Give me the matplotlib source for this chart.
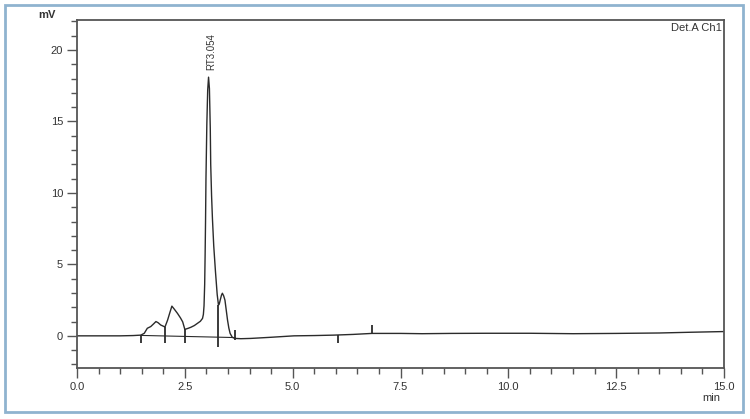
import matplotlib
matplotlib.use("Agg")
import matplotlib.pyplot as plt
from matplotlib.patches import Rectangle
from matplotlib.ticker import MultipleLocator

plt.rcParams['font.family'] = ['Liberation Sans', 'DejaVu Sans']

# chromatogram trace (min, mV)
time_min = [0.0, 0.5, 1.0, 1.3, 1.48, 1.56, 1.63, 1.71, 1.78, 1.83, 1.88, 1.94,
            2.04, 2.10, 2.15, 2.20, 2.26, 2.33, 2.40, 2.45, 2.50, 2.57, 2.64,
            2.72, 2.79, 2.86, 2.91, 2.93, 2.945, 2.96, 2.97, 2.98, 2.99, 3.01,
            3.03, 3.05, 3.07, 3.09, 3.10, 3.12, 3.14, 3.17, 3.21, 3.25,
            3.28, 3.30, 3.32, 3.35, 3.37, 3.40, 3.43, 3.46, 3.49, 3.52,
            3.55, 3.60, 3.66, 3.80, 4.03, 4.50, 5.03, 5.50, 5.95, 6.40, 6.84,
            7.50, 8.00, 8.66, 9.50, 10.5, 11.5, 12.5, 13.5, 14.2, 15.0]
signal_mv = [0.0, 0.0, 0.0, 0.02, 0.05, 0.18, 0.53, 0.65, 0.85, 1.0, 0.92, 0.76,
             0.62, 1.1, 1.6, 2.08, 1.85, 1.57, 1.25, 0.98, 0.45, 0.52, 0.6,
             0.72, 0.87, 1.02, 1.22, 1.5, 2.1, 3.6, 5.6, 8.0, 11.0, 14.8,
             17.2, 18.1, 17.3, 14.5, 12.0, 9.8, 8.2, 6.3, 4.5, 2.9,
             2.15, 2.25, 2.5, 2.85, 2.98, 2.8, 2.5, 1.8, 1.1, 0.55,
             0.17, -0.1, -0.18, -0.2, -0.18, -0.1, 0.0, 0.02, 0.05, 0.1, 0.17,
             0.17, 0.15, 0.17, 0.18, 0.18, 0.15, 0.17, 0.2, 0.25, 0.3]

# integration baseline under the peak group
base_x = [1.48, 3.66]
base_y = [0.03, -0.12]

# integration start / stop marks
mark_x = [1.48, 2.04, 2.50, 3.28, 3.66, 6.06, 6.85]
mark_lo = [-0.5, -0.5, -0.5, -0.8, -0.3, -0.5, 0.1]
mark_hi = [0.05, 0.62, 0.45, 2.15, 0.4, 0.05, 0.75]

peak_rt = 3.054
peak_height = 18.1

fig = plt.figure(figsize=(7.5, 4.19), dpi=100)
fig.patches.append(Rectangle((5 / 750, 7 / 419), 738 / 750, 407 / 419,
                             transform=fig.transFigure, fill=False,
                             edgecolor='#8fb3cf', linewidth=2.0))

ax = fig.add_axes([77 / 750, 51 / 419, 647 / 750, 348 / 419])
line_col = '#2b2b2b'
ax.plot(time_min, signal_mv, color=line_col, linewidth=1.0)
ax.plot(base_x, base_y, color=line_col, linewidth=0.8)
ax.vlines(mark_x, mark_lo, mark_hi, color=line_col, linewidth=1.3)

ax.text(peak_rt + 0.07, peak_height + 0.5, 'RT3.054', rotation=90,
        fontsize=7, color='#333333', ha='center', va='bottom')

ax.set_xlim(0, 15)
ax.set_ylim(-2.25, 22.1)
ax.xaxis.set_major_locator(MultipleLocator(2.5))
ax.xaxis.set_minor_locator(MultipleLocator(0.5))
ax.yaxis.set_major_locator(MultipleLocator(5))
ax.yaxis.set_minor_locator(MultipleLocator(1))
ax.xaxis.set_major_formatter(matplotlib.ticker.FormatStrFormatter('%.1f'))

for s in ax.spines.values():
    s.set_color('#555555')
    s.set_linewidth(1.3)
ax.tick_params(which='major', length=7, width=1.0, color='#555555',
               labelsize=8, labelcolor='#333333', pad=3)
ax.tick_params(which='minor', length=4, width=1.0, color='#555555')

fig.text(38 / 750, 1 - 15 / 419, 'mV', fontsize=8, color='#333333',
         ha='left', va='center', fontweight='bold')
fig.text(720 / 750, 1 - 398 / 419, 'min', fontsize=8, color='#333333',
         ha='right', va='center')
ax.text(0.997, 0.99, 'Det.A Ch1', transform=ax.transAxes, fontsize=8,
        color='#333333', ha='right', va='top')

fig.savefig('out.png', dpi=100)
